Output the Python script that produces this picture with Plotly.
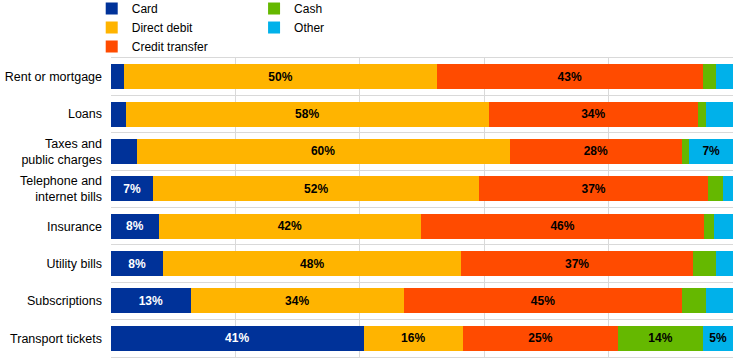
import plotly.graph_objects as go

categories = ["Rent or mortgage", "Loans", "Taxes and<br>public charges",
              "Telephone and<br>internet bills", "Insurance", "Utility bills",
              "Subscriptions", "Transport tickets"]

card = [2.1, 2.4, 4.1, 6.8, 7.7, 8.4, 12.8, 40.6]
direct_debit = [50.3, 58.3, 60.0, 52.4, 42.1, 47.9, 34.3, 16.0]
credit_transfer = [42.7, 33.7, 27.7, 36.8, 45.6, 37.3, 44.7, 24.9]
cash = [2.2, 1.2, 1.2, 2.4, 1.6, 3.6, 3.9, 13.7]
other = [2.7, 4.4, 7.0, 1.6, 3.0, 2.8, 4.3, 4.8]

series = [
    ("Card", card, "#003299", "white", "legend"),
    ("Direct debit", direct_debit, "#FFB400", "black", "legend"),
    ("Credit transfer", credit_transfer, "#FF4B00", "black", "legend"),
    ("Cash", cash, "#65B800", "black", "legend2"),
    ("Other", other, "#00B1EA", "black", "legend2"),
]

fig = go.Figure()
for name, vals, color, tcolor, leg in series:
    texts = [f"{round(v)}%" if v >= 4.5 else "" for v in vals]
    fig.add_trace(go.Bar(
        name=name, y=categories, x=vals, orientation="h",
        marker=dict(color=color, line=dict(width=0)),
        text=texts, textposition="inside", insidetextanchor="middle",
        textangle=0,
        textfont=dict(color=tcolor, size=12, family="Liberation Sans, Arial", weight="bold"),
        hoverinfo="skip", legend=leg,
    ))

fig.update_layout(
    width=744, height=361,
    barmode="stack", bargap=0.33,
    margin=dict(l=111, r=11, t=58, b=4, autoexpand=False),
    plot_bgcolor="white", paper_bgcolor="white",
    font=dict(family="Liberation Sans, Arial", size=12, color="black"),
    legend=dict(x=-0.031, y=1.214, yref="paper", xanchor="left", yanchor="top",
                orientation="v", font=dict(size=12), tracegroupgap=0,
                traceorder="normal", bgcolor="rgba(0,0,0,0)", itemclick=False),
    legend2=dict(x=0.230, y=1.214, yref="paper", xanchor="left", yanchor="top",
                 orientation="v", font=dict(size=12), tracegroupgap=0,
                 traceorder="normal", bgcolor="rgba(0,0,0,0)", itemclick=False),
    xaxis=dict(range=[0, 100], dtick=20, showticklabels=False, showgrid=True,
               gridcolor="#d9d9d9", gridwidth=1, zeroline=False, automargin=False,
               showline=True, linecolor="#d9d9d9", mirror=True),
    yaxis=dict(autorange="reversed", tickson="boundaries", showgrid=True,
               gridcolor="#d9d9d9", gridwidth=1, ticks="", ticklabelstandoff=8,
               automargin=False,
               tickfont=dict(size=12.5, color="black"), showline=False),
)

fig.write_html("out.html", config={"displayModeBar": False},
               post_script="document.body.style.margin='0';")
